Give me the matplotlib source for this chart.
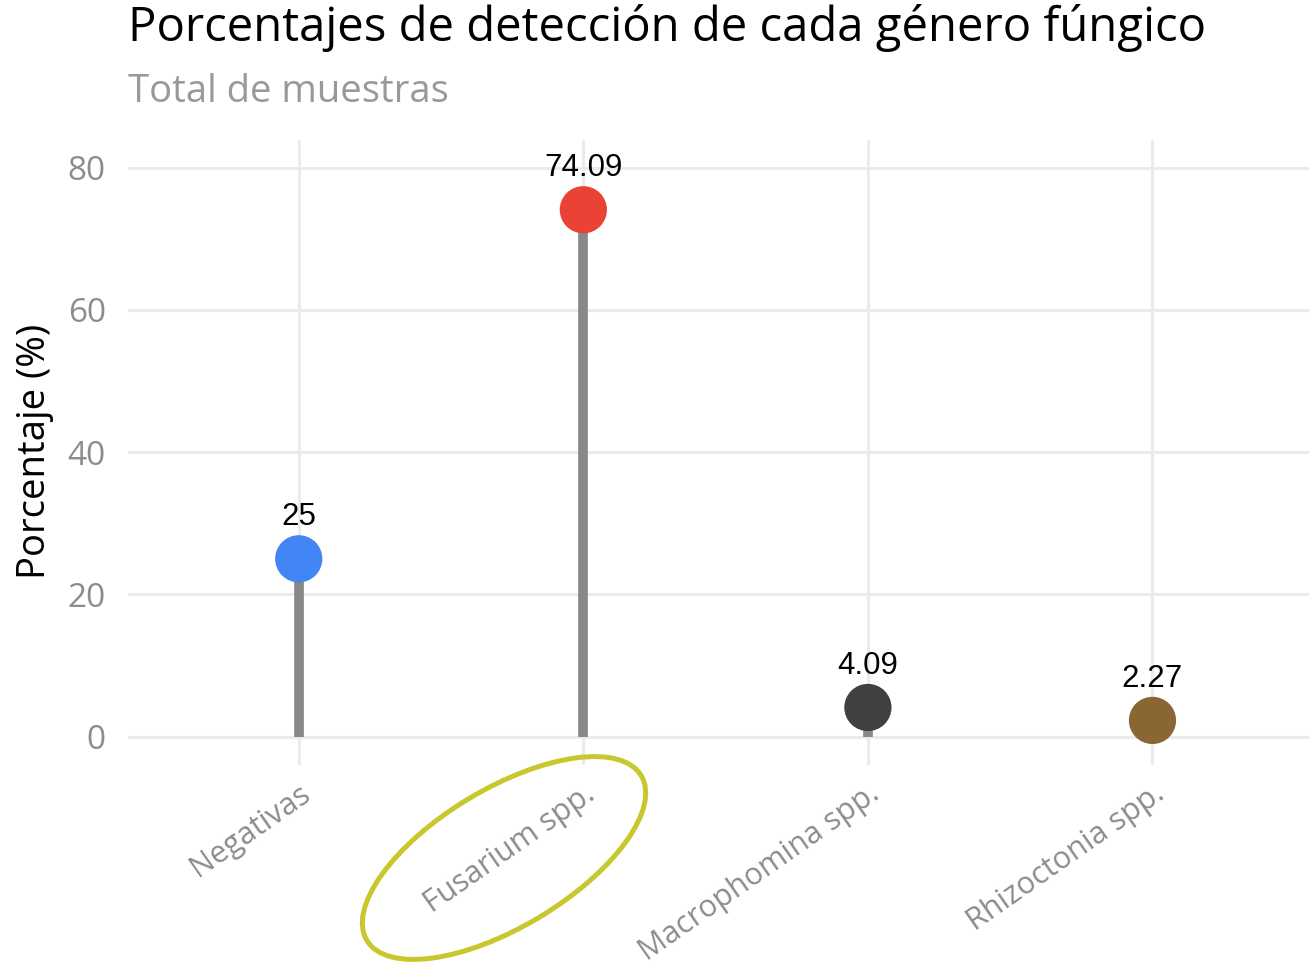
import matplotlib
matplotlib.use("Agg")
import matplotlib.pyplot as plt
from matplotlib.patches import Ellipse
from matplotlib.transforms import IdentityTransform

# --- Datos ---
categorias = ["Negativas", "Fusarium spp.", "Macrophomina spp.", "Rhizoctonia spp."]
porcentajes = [25.0, 74.09, 4.09, 2.27]
etiquetas = ["25", "74.09", "4.09", "2.27"]
colores = ["#4285F4", "#EA4335", "#404040", "#8B6635"]
ticks_y = [0, 20, 40, 60, 80]

fuente = "Open Sans"
gris = "#8C8C8C"

fig = plt.figure(figsize=(13.09, 9.74), dpi=100)
ax = fig.add_axes([128 / 1309, 1 - 765 / 974, 1 - 128 / 1309, (765 - 140) / 974])

x = list(range(len(categorias)))

# --- Palitos y puntos ---
ax.vlines(x, 0, porcentajes, color="#888888", linewidth=7, zorder=2)
ax.scatter(x, porcentajes, s=34 ** 2, c=colores, zorder=3, linewidths=0)
for xi, yi, txt in zip(x, porcentajes, etiquetas):
    ax.annotate(txt, (xi, yi), xytext=(0, 30), textcoords="offset points",
                ha="center", va="center", fontsize=22.5, family="Liberation Sans",
                color="black")

# --- Ejes ---
ax.set_xlim(-0.6, 3.55)
ax.set_ylim(-4.0, 83.9)
ax.set_yticks(ticks_y)
ax.set_xticks(x)
ax.set_xticklabels(categorias, rotation=35, ha="right", rotation_mode="anchor",
                   fontsize=22, color=gris, family=fuente)
for lab in ax.get_yticklabels():
    lab.set_family(fuente)
ax.tick_params(axis="y", length=0, pad=16, labelsize=24, labelcolor=gris)
ax.tick_params(axis="x", length=0, pad=10)
ax.grid(True, color="#EBEBEB", linewidth=2.2)
ax.set_axisbelow(True)
for s in ax.spines.values():
    s.set_visible(False)

fig.text(35 / 1309, 1 - 451 / 974, "Porcentaje (%)", rotation=90, fontsize=27.5,
         family=fuente, ha="center", va="center", color="black")

# --- Títulos ---
fig.text(128 / 1309, 1 - 28 / 974, "Porcentajes de detección de cada género fúngico",
         fontsize=34, family=fuente, ha="left", va="center", color="black")
fig.text(128 / 1309, 1 - 92 / 974, "Total de muestras",
         fontsize=27.5, family=fuente, ha="left", va="center", color="#999999")

# --- Elipse resaltando Fusarium ---
elipse = Ellipse((504, 974 - 858), 320, 138, angle=31, fill=False,
                 edgecolor="#C8C82E", linewidth=3.6, transform=IdentityTransform())
fig.add_artist(elipse)

fig.savefig("out.png", dpi=100)
